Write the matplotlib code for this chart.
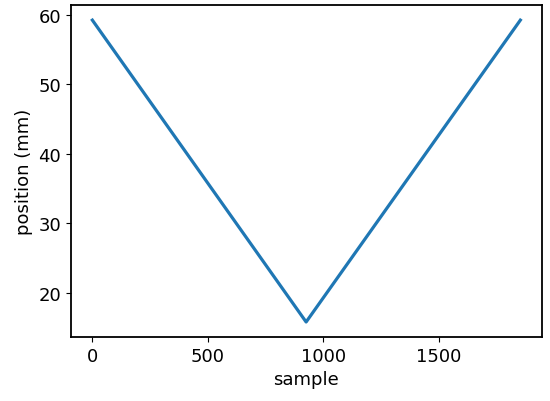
import matplotlib
matplotlib.use("Agg")
from matplotlib import pyplot as plt

# sweep: down and back up
sample = [0, 925, 1852]
position = [59.2, 15.8, 59.2]

plt.rcParams['font.size'] = 13

fig, ax = plt.subplots(figsize=(5.5, 4.02), dpi=100)
ax.plot(sample, position, color='#1f77b4', linewidth=2.3)
ax.set_xlabel("sample")
ax.set_ylabel("position (mm)")
ax.set_xticks([0, 500, 1000, 1500])
ax.set_yticks([20, 30, 40, 50, 60])
for s in ax.spines.values():
    s.set_linewidth(1.3)
fig.subplots_adjust(left=0.129, right=0.985, top=0.985, bottom=0.159)
fig.savefig("out.png", dpi=100)
